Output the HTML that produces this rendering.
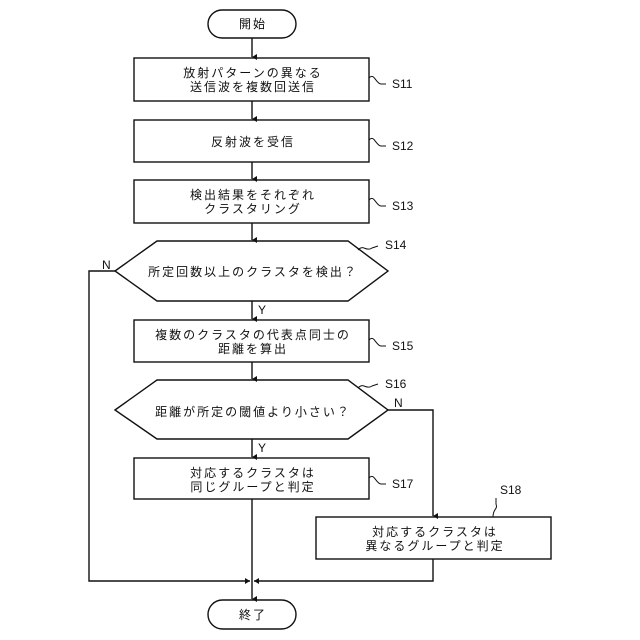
<!DOCTYPE html>
<html><head><meta charset="utf-8"><style>
html,body{margin:0;padding:0;background:#fff;}
svg{display:block;}
text{font-family:"Liberation Sans","Noto Sans CJK JP",sans-serif;font-size:12px;fill:#111;}
.t text{letter-spacing:2px;}
.l{font-family:"Liberation Sans Narrow","Liberation Sans",sans-serif;font-size:12px;}
</style></head><body>
<svg width="640" height="640" viewBox="0 0 640 640" xmlns="http://www.w3.org/2000/svg">
<defs><marker id="a" markerWidth="6" markerHeight="6" refX="3" refY="5" orient="auto" markerUnits="userSpaceOnUse"><path d="M0,0 L3,5 L6,0 Z" fill="#111"/></marker>
<marker id="ar" markerWidth="6" markerHeight="6" refX="5" refY="3" orient="auto" markerUnits="userSpaceOnUse"><path d="M0,0 L5,3 L0,6 Z" fill="#111"/></marker></defs>
<g stroke="#111" stroke-width="1.4" fill="none">
<rect x="208" y="10" width="88" height="28" rx="14"/>
<rect x="134" y="58" width="235" height="43"/>
<rect x="134" y="120" width="235" height="42"/>
<rect x="134" y="180" width="235" height="43"/>
<polygon points="115,271 157,241 348,241 388,271 348,301 157,301"/>
<rect x="134" y="320" width="235" height="42"/>
<polygon points="115,410 157,380 348,380 388,410 348,439 157,439"/>
<rect x="134" y="458" width="235" height="41"/>
<rect x="316" y="517" width="235" height="42"/>
<rect x="208" y="600" width="88" height="29" rx="14.5"/>
<line x1="252" y1="38" x2="252" y2="57" marker-end="url(#a)"/>
<line x1="252" y1="101" x2="252" y2="119" marker-end="url(#a)"/>
<line x1="252" y1="162" x2="252" y2="179" marker-end="url(#a)"/>
<line x1="252" y1="223" x2="252" y2="240" marker-end="url(#a)"/>
<line x1="252" y1="301" x2="252" y2="319" marker-end="url(#a)"/>
<line x1="252" y1="362" x2="252" y2="379" marker-end="url(#a)"/>
<line x1="252" y1="439" x2="252" y2="457" marker-end="url(#a)"/>
<line x1="252" y1="499" x2="252" y2="599" marker-end="url(#a)"/>
<polyline points="115,271 89,271 89,581 250,581" marker-end="url(#ar)"/>
<polyline points="388,410 433,410 433,516" marker-end="url(#a)"/>
<polyline points="433,559 433,581 254,581" marker-end="url(#ar)"/>
<path d="M369,78 C374,72 376,84 381,84 L386,84" stroke-width="1"/>
<path d="M369,140 C374,134 376,146 381,146 L386,146" stroke-width="1"/>
<path d="M369,200 C374,194 376,206 381,206 L386,206" stroke-width="1"/>
<path d="M369,340 C374,334 376,346 381,346 L386,346" stroke-width="1"/>
<path d="M369,478 C374,472 376,484 381,484 L386,484" stroke-width="1"/>
<path d="M358,250 C363,244 366,252 372,248 L378,246" stroke-width="1"/>
<path d="M358,388 C363,382 366,390 372,386 L378,384" stroke-width="1"/>
<path d="M493,517 C493,508 498,510 496,504 L496,498" stroke-width="1"/>
</g>
<g text-anchor="middle" class="t">
<text x="253" y="28">開始</text>
<text x="253" y="77">放射パターンの異なる</text>
<text x="253" y="91">送信波を複数回送信</text>
<text x="253" y="146">反射波を受信</text>
<text x="253" y="199">検出結果をそれぞれ</text>
<text x="253" y="213">クラスタリング</text>
<text x="253" y="276">所定回数以上のクラスタを検出？</text>
<text x="253" y="339">複数のクラスタの代表点同士の</text>
<text x="253" y="353">距離を算出</text>
<text x="253" y="416">距離が所定の閾値より小さい？</text>
<text x="253" y="477">対応するクラスタは</text>
<text x="253" y="491">同じグループと判定</text>
<text x="435" y="536">対応するクラスタは</text>
<text x="435" y="550">異なるグループと判定</text>
<text x="253" y="619">終了</text>
</g>
<g class="l">
<text class="l" x="392" y="88">S11</text>
<text class="l" x="392" y="150">S12</text>
<text class="l" x="392" y="210">S13</text>
<text class="l" x="385" y="249">S14</text>
<text class="l" x="392" y="350">S15</text>
<text class="l" x="385" y="388">S16</text>
<text class="l" x="392" y="488">S17</text>
<text class="l" x="500" y="494">S18</text>
<text class="l" x="102" y="269">N</text>
<text class="l" x="258" y="314">Y</text>
<text class="l" x="394" y="407">N</text>
<text class="l" x="258" y="452">Y</text>
</g>
</svg>
</body></html>
